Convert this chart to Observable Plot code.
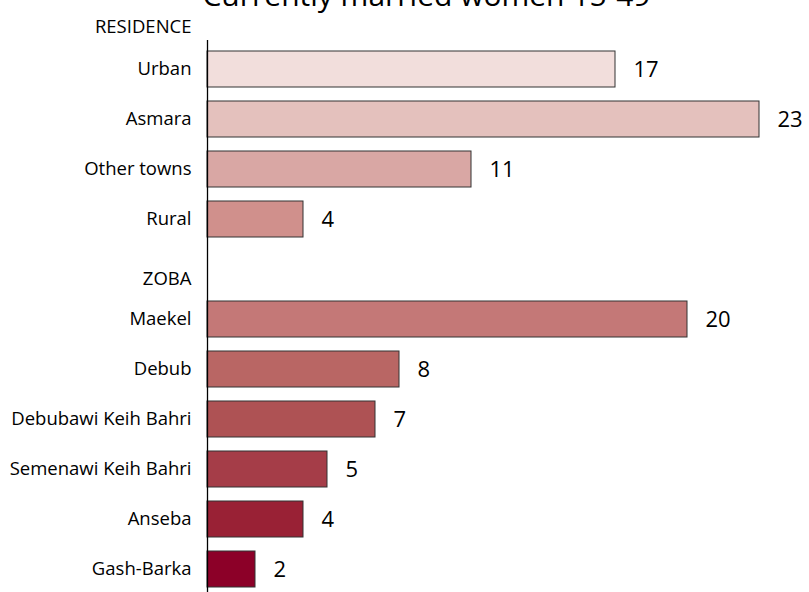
<!DOCTYPE html>
<html><head><meta charset="utf-8">
<script src="https://cdn.jsdelivr.net/npm/d3@7"></script>
<script src="https://cdn.jsdelivr.net/npm/@observablehq/plot@0.6"></script>
<style>
html,body{margin:0;padding:0;background:#fff;overflow:hidden}
#wrap{position:relative;width:809px;height:592px;overflow:hidden}
#title{position:absolute;left:22px;width:809px;top:-25px;line-height:40px;text-align:center;font-family:"Open Sans",sans-serif;font-size:30px;color:#000;white-space:nowrap}
#chart{position:absolute;left:0;top:0}
</style>
</head><body>
<div id="wrap"><div id="title">Currently married women 15-49</div><div id="chart"></div></div>
<script>
const rowOrder = ["Urban","Asmara","Other towns","Rural","ZOBA","Maekel","Debub","Debubawi Keih Bahri","Semenawi Keih Bahri","Anseba","Gash-Barka"];
const topHeader = ["RESIDENCE"];
const midHeader = ["ZOBA"];
const categories = ["Urban","Asmara","Other towns","Rural","Maekel","Debub","Debubawi Keih Bahri","Semenawi Keih Bahri","Anseba","Gash-Barka"];
const values = [17, 23, 11, 4, 20, 8, 7, 5, 4, 2];
const barColors = ["#f2dedc","#e4c1bd","#d9a7a4","#d0908c","#c47877","#b96664","#ae5254","#a53d48","#992135","#8c0028"];

const data = categories.map((c, i) => ({name: c, value: values[i], color: barColors[i]}));
const font = '"Open Sans", sans-serif';

const chart = Plot.plot({
  width: 809,
  height: 592,
  marginLeft: 207,
  marginRight: 2,
  marginTop: 40,
  marginBottom: -6,
  style: {fontFamily: font, background: "transparent", overflow: "visible"},
  x: {domain: [0, 25], axis: null},
  y: {domain: rowOrder, axis: null, paddingInner: 0.29, paddingOuter: 0.145},
  marks: [
    Plot.barX(data, {x: "value", y: "name", fill: "color", stroke: "#333", strokeWidth: 1}),
    Plot.ruleX([0], {stroke: "#000", strokeWidth: 1.3}),
    Plot.text(data, {x: 0, y: "name", text: "name", textAnchor: "end", dx: -16, fontSize: 18.5, fill: "#000"}),
    Plot.text(midHeader, {x: 0, y: d => d, text: d => d, textAnchor: "end", dx: -16, dy: 10, fontSize: 18.5, fill: "#000"}),
    Plot.text(topHeader, {x: 0, frameAnchor: "top", text: d => d, textAnchor: "end", dx: -16, dy: -21, fontSize: 18.5, fill: "#000"}),
    Plot.text(data, {x: "value", y: "name", text: d => String(d.value), textAnchor: "start", dx: 18, fontSize: 22, fill: "#000"})
  ]
});
document.getElementById("chart").appendChild(chart);
</script>
</body></html>
